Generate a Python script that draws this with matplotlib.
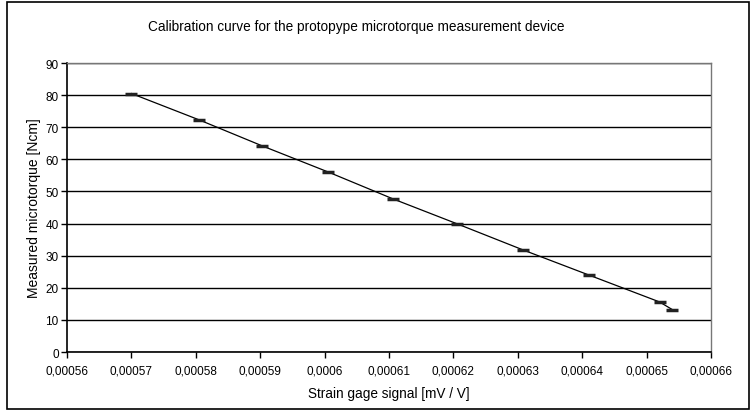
import matplotlib
matplotlib.use("Agg")
import matplotlib.pyplot as plt
from matplotlib.ticker import FuncFormatter, MultipleLocator
from matplotlib.patches import Rectangle

# Calibration data
strain_signal = [0.000570, 0.0005805, 0.0005903, 0.0006005, 0.0006106,
                 0.0006206, 0.0006308, 0.000641, 0.000652, 0.000654]
torque = [80.5, 72.3, 64.2, 56.1, 47.7, 39.9, 31.8, 24.0, 15.6, 13.2]

plt.rcParams['font.family'] = ['Liberation Sans', 'DejaVu Sans']

fig = plt.figure(figsize=(7.54, 4.14), dpi=100)
# outer chart frame
fig.patches.append(Rectangle((0.009, 0.01), 0.985, 0.983, transform=fig.transFigure,
                             fill=False, edgecolor='black', linewidth=1.2))

ax = fig.add_axes([0.0889, 0.1473, 0.8541, 0.6981])

ax.plot(strain_signal, torque, color='black', linewidth=0.9,
        marker='_', markersize=8, markeredgewidth=2.5, markeredgecolor='#222222')

ax.set_xlim(0.00056, 0.00066)
ax.set_ylim(0, 90)
ax.xaxis.set_major_locator(MultipleLocator(0.00001))
ax.yaxis.set_major_locator(MultipleLocator(10))


def comma_fmt(v, pos):
    s = f"{v:.5f}".rstrip('0')
    return s.replace('.', ',')


ax.xaxis.set_major_formatter(FuncFormatter(comma_fmt))
ax.yaxis.set_major_formatter(FuncFormatter(lambda v, p: f"{v:.0f}"))

ax.yaxis.grid(True, color='black', linewidth=1.0)
ax.set_axisbelow(True)

for side in ['top', 'right']:
    ax.spines[side].set_color('#777777')
    ax.spines[side].set_linewidth(1.0)
for side in ['left', 'bottom']:
    ax.spines[side].set_color('black')
    ax.spines[side].set_linewidth(1.2)

ax.tick_params(axis='both', direction='out', length=4, width=1, labelsize=8.5, color='black')
ax.tick_params(axis='x', pad=5)
ax.tick_params(axis='y', pad=2)

ax.set_xlabel('Strain gage signal [mV / V]', fontsize=9.8, labelpad=7)
ax.set_ylabel('Measured microtorque [Ncm]', fontsize=10, labelpad=3)

fig.text(0.473, 0.935, 'Calibration curve for the protopype microtorque measurement device',
         ha='center', va='center', fontsize=9.8)

fig.savefig('out.png', dpi=100)
